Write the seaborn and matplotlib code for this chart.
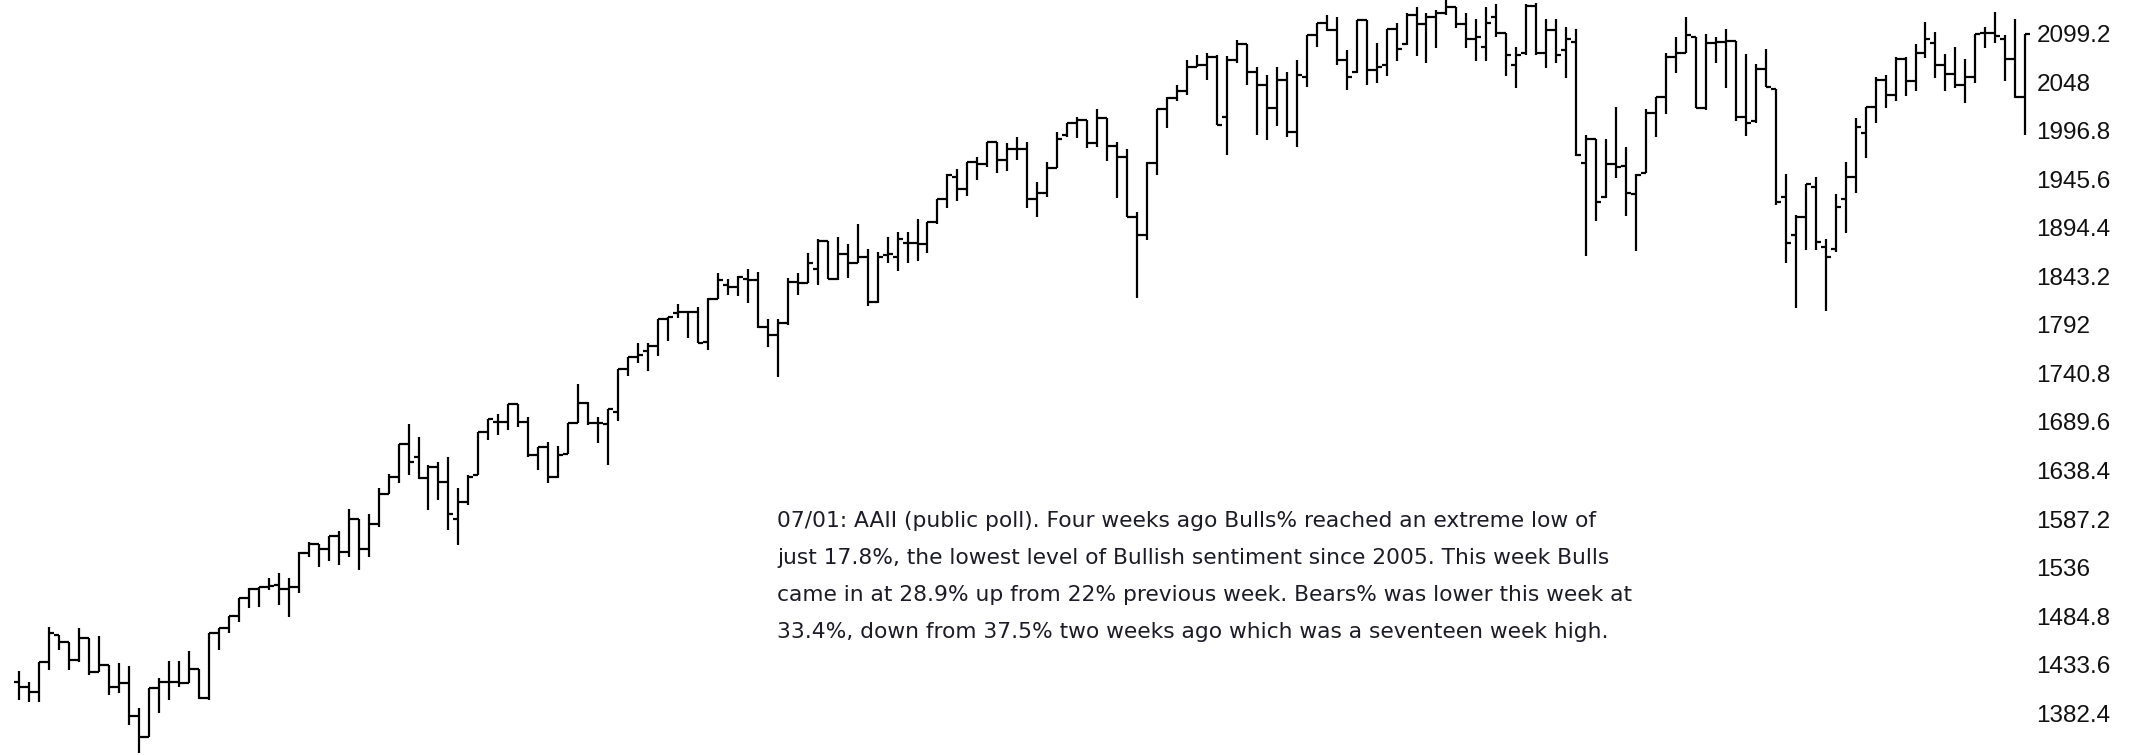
import matplotlib
matplotlib.use("Agg")
import matplotlib.pyplot as plt
import seaborn as sns
import numpy as np

# Weekly OHLC bars (S&P 500, week ending 2012-08-24 .. 2016-07-01)
opens = [1415.7, 1410.4, 1405.1, 1436.8, 1464.9, 1457.9, 1438.5, 1461.4, 1426.2, 1433.3,
         1410.4, 1413.9, 1379.4, 1357.7, 1408.6, 1415.7, 1415.7, 1413.9, 1428.7, 1398.1,
         1466.7, 1471.9, 1484.9, 1503.6, 1513.1, 1515.9, 1517.6, 1513.0, 1515.9, 1551.0,
         1560.9, 1555.2, 1569.3, 1552.8, 1586.9, 1555.2, 1582.0, 1613.6, 1631.9, 1666.3,
         1652.3, 1630.1, 1642.4, 1626.6, 1586.9, 1605.5, 1633.6, 1679.4, 1689.9, 1689.9,
         1708.5, 1689.9, 1654.7, 1662.8, 1631.2, 1655.8, 1688.9, 1710.0, 1688.9, 1687.5,
         1700.5, 1745.1, 1757.8, 1764.8, 1769.7, 1797.9, 1804.2, 1806.0, 1806.0, 1774.3,
         1819.0, 1834.1, 1832.3, 1840.1, 1839.4, 1789.4, 1781.4, 1793.7, 1837.6, 1835.8,
         1850.6, 1880.8, 1840.1, 1866.8, 1857.6, 1863.2, 1816.5, 1865.7, 1863.9, 1878.7,
         1878.0, 1877.3, 1900.9, 1924.4, 1948.3, 1935.0, 1964.2, 1961.7, 1985.3, 1965.9,
         1977.2, 1977.2, 1924.4, 1931.5, 1957.1, 1992.3, 2004.6, 2008.1, 1983.5, 2009.9,
         1980.7, 1968.7, 1905.5, 1886.8, 1963.1, 2019.4, 2031.0, 2039.1, 2064.4, 2066.1,
         2074.9, 2010.9, 2071.4, 2088.3, 2059.1, 2045.0, 2020.4, 2050.3, 1995.8, 2053.1,
         2097.8, 2110.8, 2103.1, 2071.4, 2059.1, 2113.6, 2060.9, 2066.1, 2103.8, 2088.3,
         2118.9, 2109.4, 2117.1, 2121.3, 2127.7, 2109.4, 2093.2, 2084.8, 2116.4, 2100.2,
         2066.1, 2079.1, 2128.4, 2079.1, 2103.1, 2082.0, 2090.7, 1963.1, 1987.7, 1926.6,
         1961.7, 1959.6, 1930.1, 1952.6, 2015.2, 2032.0, 2074.2, 2079.1, 2095.3, 2020.4,
         2089.7, 2090.7, 2091.8, 2011.6, 2007.4, 2061.6, 2040.5, 1926.6, 1886.8, 1905.5,
         1937.8, 1874.5, 1871.7, 1924.4, 1947.6, 1994.8, 2021.5, 2050.3, 2034.5, 2072.1,
         2049.6, 2079.1, 2089.7, 2066.1, 2056.6, 2045.0, 2053.1, 2100.2, 2100.2, 2093.2,
         2072.1, 2032.0]
highs = [1427.3, 1415.7, 1436.8, 1473.7, 1464.9, 1457.9, 1471.9, 1461.4, 1463.8, 1433.3,
         1435.0, 1432.2, 1387.5, 1408.6, 1419.2, 1437.8, 1437.5, 1448.4, 1428.7, 1466.7,
         1471.9, 1484.9, 1503.6, 1514.1, 1515.9, 1524.7, 1529.9, 1524.7, 1552.8, 1563.3,
         1560.9, 1569.3, 1574.6, 1597.4, 1586.9, 1592.5, 1619.6, 1634.7, 1666.3, 1687.4,
         1674.1, 1644.2, 1647.7, 1653.0, 1619.6, 1633.6, 1679.4, 1692.4, 1698.0, 1708.5,
         1708.5, 1695.2, 1662.8, 1668.8, 1664.2, 1688.9, 1729.7, 1711.0, 1694.5, 1702.9,
         1745.1, 1757.8, 1772.6, 1773.3, 1797.9, 1800.0, 1814.0, 1807.0, 1811.2, 1820.0,
         1846.4, 1840.1, 1843.6, 1850.6, 1848.1, 1797.9, 1797.9, 1841.1, 1847.1, 1868.2,
         1882.3, 1880.8, 1884.4, 1877.3, 1898.4, 1871.7, 1869.2, 1885.0, 1890.3, 1890.3,
         1903.3, 1900.9, 1924.4, 1951.2, 1956.1, 1964.2, 1968.7, 1985.3, 1985.3, 1984.2,
         1990.5, 1985.3, 1943.1, 1964.2, 1995.8, 2005.3, 2010.9, 2008.1, 2019.4, 2009.9,
         1985.3, 1977.2, 1911.4, 1964.2, 2019.4, 2032.7, 2045.0, 2071.4, 2076.7, 2079.1,
         2076.7, 2075.6, 2092.5, 2088.3, 2063.7, 2055.6, 2063.7, 2059.1, 2071.4, 2097.8,
         2110.8, 2118.9, 2117.1, 2082.0, 2113.6, 2113.6, 2089.7, 2103.8, 2110.8, 2121.3,
         2127.7, 2121.3, 2124.1, 2134.7, 2127.7, 2121.3, 2114.3, 2127.0, 2130.5, 2100.2,
         2084.8, 2130.5, 2131.9, 2114.3, 2114.3, 2105.9, 2103.8, 1992.3, 1987.7, 1987.7,
         2021.5, 1980.0, 1951.2, 2019.4, 2032.0, 2079.1, 2095.3, 2117.1, 2095.3, 2098.8,
         2096.0, 2103.8, 2091.8, 2077.7, 2067.2, 2082.7, 2040.5, 1951.2, 1907.9, 1940.6,
         1948.3, 1882.3, 1930.1, 1964.2, 2009.9, 2021.5, 2053.8, 2055.6, 2074.2, 2074.2,
         2088.3, 2111.8, 2101.3, 2077.7, 2084.8, 2072.1, 2098.8, 2105.9, 2122.4, 2097.8,
         2114.3, 2098.8]
lows = [1396.3, 1394.6, 1394.6, 1428.0, 1449.1, 1428.0, 1436.8, 1422.7, 1426.2, 1401.6,
        1403.4, 1369.9, 1340.8, 1357.7, 1382.9, 1396.3, 1410.4, 1413.9, 1397.0, 1396.3,
        1449.1, 1466.7, 1479.0, 1493.0, 1494.1, 1512.4, 1496.5, 1483.5, 1509.5, 1546.8,
        1536.3, 1543.3, 1538.7, 1546.8, 1533.4, 1546.8, 1578.4, 1613.6, 1625.6, 1633.6,
        1629.1, 1596.7, 1607.3, 1575.6, 1559.8, 1602.0, 1633.6, 1670.6, 1675.8, 1681.1,
        1683.9, 1653.0, 1638.9, 1625.6, 1630.0, 1655.8, 1688.9, 1686.4, 1667.8, 1644.2,
        1691.0, 1738.1, 1752.2, 1743.7, 1759.2, 1775.4, 1798.9, 1777.8, 1772.6, 1765.5,
        1819.0, 1823.5, 1822.5, 1814.7, 1788.4, 1768.3, 1736.7, 1791.9, 1823.5, 1835.8,
        1834.1, 1840.1, 1839.5, 1841.1, 1857.6, 1811.9, 1814.7, 1856.9, 1849.2, 1857.6,
        1859.7, 1867.5, 1898.4, 1914.9, 1923.0, 1927.9, 1944.8, 1958.9, 1952.6, 1954.7,
        1965.9, 1914.9, 1905.4, 1926.5, 1957.1, 1990.5, 1988.8, 1978.2, 1979.3, 1965.2,
        1925.5, 1905.4, 1820.7, 1881.5, 1950.1, 1999.3, 2028.5, 2034.5, 2064.4, 2050.3,
        2002.8, 1971.2, 2068.6, 2045.0, 1992.3, 1987.0, 2001.8, 1989.8, 1979.3, 2042.6,
        2084.8, 2102.4, 2066.1, 2039.8, 2058.1, 2045.0, 2047.5, 2054.5, 2070.7, 2087.2,
        2075.6, 2068.6, 2083.7, 2118.9, 2104.8, 2083.7, 2070.7, 2070.7, 2095.3, 2054.5,
        2041.5, 2077.0, 2076.7, 2062.6, 2067.9, 2052.1, 1970.2, 1864.7, 1901.9, 1925.5,
        1946.6, 1906.9, 1870.3, 1952.6, 1989.8, 2014.5, 2058.1, 2079.1, 2020.4, 2018.7,
        2068.6, 2041.5, 2007.4, 1991.2, 2004.6, 2042.6, 1918.5, 1857.0, 1809.5, 1871.0,
        1871.0, 1807.0, 1869.0, 1889.3, 1931.5, 1967.7, 2004.6, 2020.4, 2028.5, 2033.4,
        2039.1, 2073.2, 2052.1, 2039.1, 2041.5, 2025.7, 2047.5, 2083.7, 2089.7, 2049.6,
        2031.0, 1992.3]
closes = [1410.4, 1405.1, 1436.8, 1466.7, 1457.9, 1438.5, 1461.4, 1426.2, 1433.3, 1410.4,
          1413.9, 1379.4, 1357.7, 1408.6, 1415.7, 1415.7, 1413.9, 1428.7, 1398.1, 1466.7,
          1471.9, 1484.9, 1503.6, 1513.1, 1515.9, 1516.6, 1513.1, 1515.9, 1551.0, 1560.9,
          1555.2, 1569.3, 1552.8, 1586.9, 1555.2, 1582.0, 1613.6, 1631.9, 1666.3, 1647.7,
          1630.1, 1642.4, 1626.6, 1592.5, 1605.5, 1631.9, 1679.4, 1692.4, 1689.9, 1708.5,
          1689.9, 1654.7, 1662.8, 1631.2, 1654.7, 1688.9, 1710.0, 1688.9, 1688.9, 1702.9,
          1745.1, 1757.8, 1760.3, 1769.7, 1797.9, 1800.0, 1806.0, 1806.0, 1773.3, 1819.0,
          1839.4, 1832.3, 1842.9, 1839.4, 1789.4, 1781.4, 1793.7, 1837.6, 1835.8, 1857.6,
          1880.8, 1840.1, 1866.8, 1857.6, 1863.2, 1816.5, 1863.9, 1866.8, 1882.2, 1878.0,
          1877.3, 1900.9, 1924.4, 1950.1, 1935.0, 1964.2, 1961.7, 1985.3, 1965.9, 1977.2,
          1977.2, 1924.4, 1931.5, 1957.1, 1987.7, 2004.6, 2008.1, 1983.5, 2009.9, 1980.7,
          1968.7, 1905.4, 1886.8, 1963.1, 2019.4, 2031.0, 2039.1, 2064.4, 2066.1, 2074.9,
          2002.8, 2071.4, 2088.3, 2059.1, 2045.0, 2020.4, 2050.3, 1995.8, 2055.6, 2097.8,
          2110.8, 2103.1, 2071.4, 2053.1, 2113.6, 2060.9, 2064.4, 2103.8, 2082.7, 2118.9,
          2109.4, 2117.1, 2121.3, 2127.7, 2109.4, 2093.2, 2095.3, 2110.8, 2100.2, 2076.7,
          2076.7, 2128.4, 2079.1, 2103.1, 2076.7, 2093.2, 1971.2, 1987.7, 1922.0, 1961.7,
          1958.2, 1931.5, 1950.1, 2015.2, 2032.0, 2074.2, 2079.1, 2097.8, 2020.4, 2089.7,
          2090.7, 2091.8, 2011.6, 2005.3, 2061.6, 2042.6, 1922.0, 1878.7, 1905.5, 1940.6,
          1879.8, 1863.3, 1916.0, 1947.6, 2000.4, 2021.5, 2050.3, 2034.5, 2072.1, 2049.6,
          2079.1, 2093.2, 2066.1, 2056.6, 2045.0, 2053.1, 2098.8, 2100.2, 2096.7, 2072.1,
          2032.7, 2098.8]

tick_values = [2099.2, 2048.0, 1996.8, 1945.6, 1894.4, 1843.2, 1792.0, 1740.8,
               1689.6, 1638.4, 1587.2, 1536.0, 1484.8, 1433.6, 1382.4]
tick_labels = ["2099.2", "2048", "1996.8", "1945.6", "1894.4", "1843.2", "1792",
               "1740.8", "1689.6", "1638.4", "1587.2", "1536", "1484.8", "1433.6", "1382.4"]

note_lines = [
    "07/01: AAII (public poll). Four weeks ago Bulls% reached an extreme low of",
    "just 17.8%, the lowest level of Bullish sentiment since 2005. This week Bulls",
    "came in at 28.9% up from 22% previous week. Bears% was lower this week at",
    "33.4%, down from 37.5% two weeks ago which was a seventeen week high.",
]

sns.set_theme(style="white")
plt.rcParams["font.family"] = ["DejaVu Sans"]

W, H = 2145, 755
fig = plt.figure(figsize=(W / 100, H / 100), dpi=100)
fig.patch.set_facecolor("white")
ax_right_px = 2035
ax = fig.add_axes([0, 0, ax_right_px / W, 1])
ax.set_facecolor("white")

x = np.arange(len(closes))
lw = 1.6
ax.vlines(x, lows, highs, color="black", linewidth=lw, capstyle="butt")
ax.hlines(opens, x - 0.5, x, color="black", linewidth=lw, capstyle="butt")
ax.hlines(closes, x, x + 0.5, color="black", linewidth=lw, capstyle="butt")

ax.set_xlim(-1.934, -1.934 + ax_right_px / 9.98)
ax.set_ylim(1338.3, 2134.7)

ax.yaxis.tick_right()
ax.set_yticks(tick_values)
ax.set_yticklabels(tick_labels, family=["Liberation Sans", "DejaVu Sans"],
                   fontsize=17.5, color="#111111")
ax.tick_params(axis="y", length=0, pad=1)
ax.set_xticks([])
sns.despine(ax=ax, left=True, bottom=True, right=True, top=True)
ax.grid(False)

for k, line in enumerate(note_lines):
    ypx = 521 + k * 37
    fig.text(777 / W, 1 - ypx / H, line, ha="left", va="center",
             fontsize=15.7, color="#1c1c28", family=["DejaVu Sans"])

fig.savefig("out.png", dpi=100, facecolor="white")
